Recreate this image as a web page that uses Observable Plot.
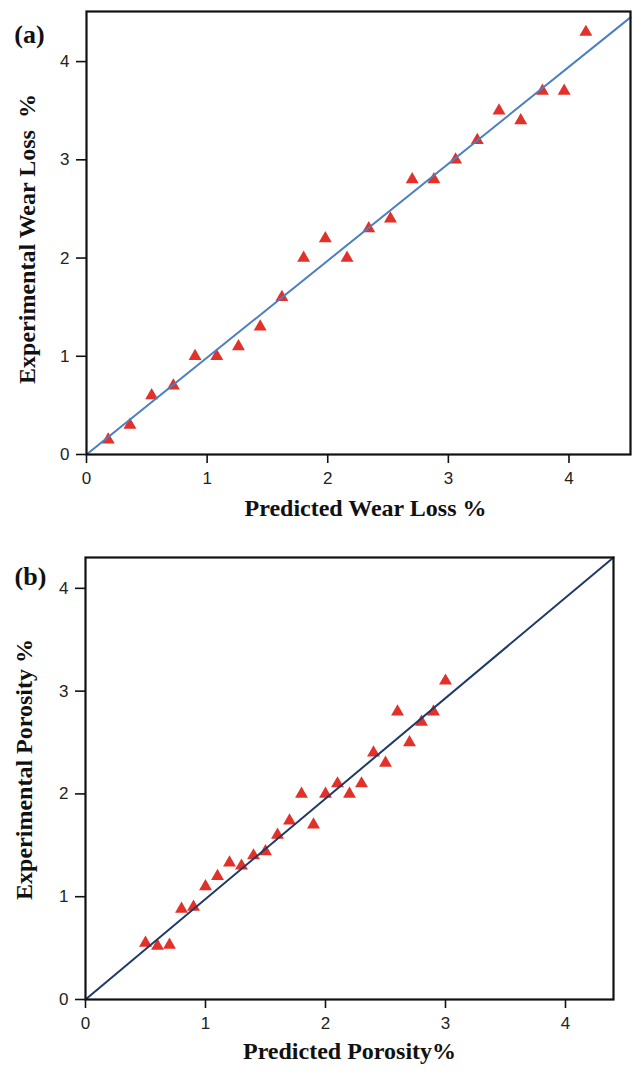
<!DOCTYPE html>
<html>
<head>
<meta charset="utf-8">
<script src="https://cdn.jsdelivr.net/npm/d3@7"></script>
<script src="https://cdn.jsdelivr.net/npm/@observablehq/plot@0.6"></script>
<style>
  html, body { margin: 0; padding: 0; background: #fff; }
  #chart { width: 633px; }
  #chart svg { display: block; }
</style>
</head>
<body>
<div id="chart"></div>
<script>
// ---------- Panel (a): wear loss ----------
const wearPredicted    = [0.18, 0.36, 0.54, 0.72, 0.90, 1.08, 1.26, 1.44, 1.62, 1.80, 1.98, 2.16, 2.34, 2.52, 2.70, 2.88, 3.06, 3.24, 3.42, 3.60, 3.78, 3.96, 4.14];
const wearExperimental = [0.15, 0.30, 0.60, 0.70, 1.00, 1.00, 1.10, 1.30, 1.60, 2.00, 2.20, 2.00, 2.30, 2.40, 2.80, 2.80, 3.00, 3.20, 3.50, 3.40, 3.70, 3.70, 4.30];
const wearFitX = [0, 4.51];
const wearFitY = [0, 4.45];

// ---------- Panel (b): porosity ----------
const porPredicted    = [0.5, 0.6, 0.7, 0.8, 0.9, 1.0, 1.1, 1.2, 1.3, 1.4, 1.5, 1.6, 1.7, 1.8, 1.9, 2.0, 2.1, 2.2, 2.3, 2.4, 2.5, 2.6, 2.7, 2.8, 2.9, 3.0];
const porExperimental = [0.55, 0.52, 0.53, 0.88, 0.90, 1.10, 1.20, 1.33, 1.30, 1.40, 1.44, 1.60, 1.74, 2.00, 1.70, 2.00, 2.10, 2.00, 2.10, 2.40, 2.30, 2.80, 2.50, 2.70, 2.80, 3.10];
const porFitX = [0, 4.4];
const porFitY = [0, 4.3];

const axisTicks = [0, 1, 2, 3, 4];

const panelA = { tag: "(a)", xLabel: "Predicted Wear Loss %", yLabel: "Experimental Wear Loss\u00a0\u00a0%" };
const panelB = { tag: "(b)", xLabel: "Predicted Porosity%", yLabel: "Experimental Porosity %" };

const serif = "'Liberation Serif', 'Times New Roman', serif";
const sans = "'Liberation Sans', Arial, Helvetica, sans-serif";
const triRed = "#e2312a";

function panel(opts) {
  const pts = opts.px.map((x, i) => ({x, y: opts.py[i]}));
  const fit = opts.fx.map((x, i) => ({x, y: opts.fy[i]}));
  const labelStyle = {fontFamily: serif, fontWeight: "bold", fontSize: 24, fill: "#111"};
  const tickStyle = {fontFamily: sans, fontSize: 17, color: "#222", stroke: "#111", strokeWidth: 1.6, tickFormat: d3.format("d"), label: null, ticks: axisTicks};
  return Plot.plot({
    width: 633,
    height: opts.height,
    marginLeft: opts.ml, marginRight: opts.mr, marginTop: opts.mt, marginBottom: opts.mb,
    style: {fontFamily: sans, fontSize: "17px", color: "#222", background: "#fff"},
    x: {domain: opts.xd},
    y: {domain: opts.yd},
    marks: [
      Plot.axisX({...tickStyle, tickSize: 9, tickPadding: 8}),
      Plot.axisY({...tickStyle, tickSize: 10, tickPadding: 7}),
      Plot.dot(pts, {x: "x", y: "y", symbol: "triangle", r: 4.8, fill: triRed, stroke: "none"}),
      Plot.line(fit, {x: "x", y: "y", stroke: opts.lineColor, strokeWidth: 2}),
      Plot.frame({stroke: "#111", strokeWidth: 2.2}),
      Plot.text([opts.labels.tag], {frameAnchor: "top-left", dx: opts.tagDx, dy: opts.tagDy, textAnchor: "middle", ...labelStyle, fontSize: 26}),
      Plot.text([opts.labels.xLabel], {frameAnchor: "bottom", dx: opts.xlDx, dy: opts.xlDy, textAnchor: "middle", ...labelStyle}),
      Plot.text([opts.labels.yLabel], {frameAnchor: "left", dx: opts.ylDx, dy: opts.ylDy, rotate: -90, textAnchor: "middle", ...labelStyle})
    ]
  });
}

const chart = document.getElementById("chart");
chart.append(panel({
  height: 528, ml: 86, mr: 3, mt: 11, mb: 74,
  xd: [0, 4.51], yd: [0, 4.51],
  px: wearPredicted, py: wearExperimental, fx: wearFitX, fy: wearFitY,
  lineColor: "#4a7fc0",
  labels: panelA,
  tagDx: -57, tagDy: 13, xlDx: 7, xlDy: 61, ylDx: -59, ylDy: 6
}));
chart.append(panel({
  height: 543, ml: 85, mr: 20, mt: 29, mb: 72,
  xd: [0, 4.4], yd: [0, 4.3],
  px: porPredicted, py: porExperimental, fx: porFitX, fy: porFitY,
  lineColor: "#1e3a66",
  labels: panelB,
  tagDx: -55, tagDy: 9, xlDx: 0, xlDy: 59, ylDx: -61, ylDy: -9
}));
</script>
</body>
</html>
